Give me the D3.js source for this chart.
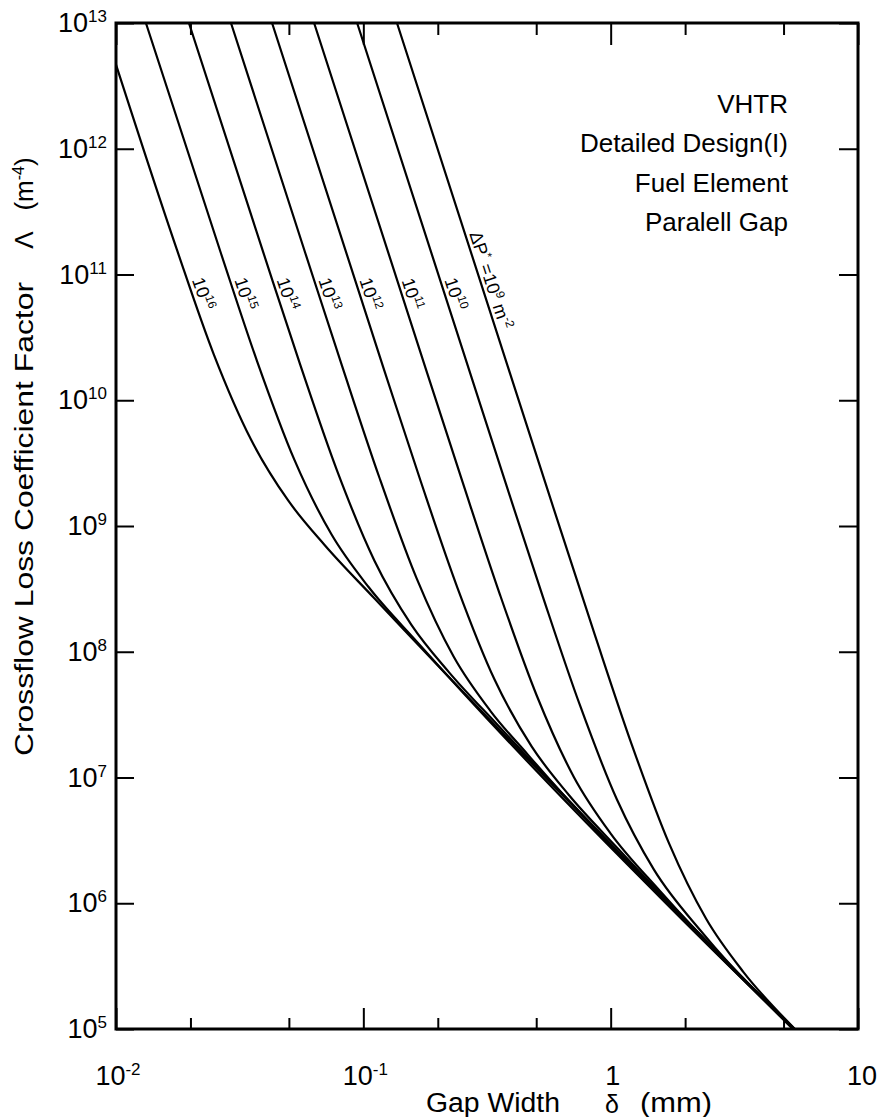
<!DOCTYPE html>
<html>
<head>
<meta charset="utf-8">
<script src="https://cdn.jsdelivr.net/npm/d3@7/dist/d3.min.js"></script>
<style>
  body { margin: 0; background: #fff; }
  svg { display: block; }
  text { font-family: "Liberation Sans", Arial, sans-serif; fill: #000; }
</style>
</head>
<body>
<svg id="chart" width="877" height="1117"></svg>
<script>
// Crossflow loss coefficient factor vs. gap width, one curve per ΔP* (m^-2)
const pressureExponents = [16, 15, 14, 13, 12, 11, 10, 9];

// gap width δ (mm) and loss factor Λ (m^-4) along each curve
const gapP16  = [0.0100, 0.0176, 0.0248, 0.0351, 0.0495, 0.0700, 0.111, 5.45];
const lossP16 = [4.66e12, 1.59e11, 2.34e10, 4.89e9, 1.61e9, 7.0e8, 2.65e8, 1e5];

const gapP15  = [0.01321, 0.0264, 0.0372, 0.0526, 0.0743, 0.105, 0.166, 5.47];
const lossP15 = [1e13, 1.53e11, 2.04e10, 3.37e9, 8.59e8, 3.27e8, 1.18e8, 1e5];

const gapP14  = [0.01972, 0.0394, 0.0556, 0.0785, 0.1109, 0.1567, 0.2213, 0.3508, 5.48];
const lossP14 = [1e13, 1.50e11, 1.91e10, 2.72e9, 5.30e8, 1.63e8, 6.92e7, 2.59e7, 1e5];

const gapP13  = [0.02917, 0.0582, 0.0822, 0.1161, 0.1641, 0.2317, 0.3273, 0.4624, 5.49];
const lossP13 = [1e13, 1.49e11, 1.85e10, 2.43e9, 3.85e8, 9.16e7, 3.36e7, 1.52e7, 1e5];

const gapP12  = [0.04276, 0.1205, 0.1702, 0.2404, 0.3396, 0.4797, 0.6776, 1.074, 5.50];
const lossP12 = [1e13, 1.82e10, 2.30e9, 3.21e8, 5.98e7, 1.76e7, 7.26e6, 2.70e6, 1e5];

const gapP11  = [0.06324, 0.1782, 0.2518, 0.3556, 0.5023, 0.7096, 1.002, 1.589, 5.52];
const lossP11 = [1e13, 1.82e10, 2.24e9, 2.90e8, 4.49e7, 1.01e7, 3.56e6, 1.24e6, 1e5];

const gapP10  = [0.09441, 0.2661, 0.3758, 0.5309, 0.7499, 1.059, 1.496, 2.371, 5.54];
const lossP10 = [1e13, 1.81e10, 2.21e9, 2.77e8, 3.79e7, 6.71e6, 1.85e6, 5.70e5, 1e5];

const gapP9   = [0.1368, 0.5445, 0.863, 1.219, 1.722, 2.432, 3.436, 5.56];
const lossP9  = [1e13, 2.20e9, 1.36e8, 1.81e7, 2.99e6, 7.52e5, 2.85e5, 1e5];

// Λ level at which each curve carries its ΔP* label
const labelLoss = [6.6e10, 6.6e10, 6.6e10, 6.6e10, 6.6e10, 6.6e10, 6.6e10, 8.5e10];

// axis ticks
const xMajorTicks = [0.01, 0.1, 1, 10];
const xMinorTicks = [0.02, 0.05, 0.2, 0.5, 2, 5];
const xTickLabels = [["10", "-2"], ["10", "-1"], ["1", ""], ["10", ""]];
const yTicks = [1e5, 1e6, 1e7, 1e8, 1e9, 1e10, 1e11, 1e12, 1e13];
const yTickExponents = ["5", "6", "7", "8", "9", "10", "11", "12", "13"];

const titleLines = ["VHTR", "Detailed Design(I)", "Fuel Element", "Paralell Gap"];

const series = [
  [gapP16, lossP16], [gapP15, lossP15], [gapP14, lossP14], [gapP13, lossP13],
  [gapP12, lossP12], [gapP11, lossP11], [gapP10, lossP10], [gapP9, lossP9]
].map(([g, l], i) => ({
  exp: pressureExponents[i],
  pts: g.map((v, k) => ({ gap: v, loss: l[k] })),
  labelAt: labelLoss[i]
}));

const svg = d3.select("#chart");
const plot = { left: 116, right: 858, top: 23, bottom: 1029 };

const x = d3.scaleLog().domain([0.01, 10]).range([plot.left, plot.right]);
const y = d3.scaleLog().domain([1e5, 1e13]).range([plot.bottom, plot.top]);

// curves
const line = d3.line()
  .x(d => x(d.gap))
  .y(d => y(d.loss))
  .curve(d3.curveMonotoneX);

svg.append("g")
  .selectAll("path")
  .data(series)
  .join("path")
  .attr("d", d => line(d.pts))
  .attr("fill", "none")
  .attr("stroke", "#000")
  .attr("stroke-width", 2.2)
  .attr("stroke-linejoin", "round");

// frame
svg.append("rect")
  .attr("x", plot.left).attr("y", plot.top)
  .attr("width", plot.right - plot.left)
  .attr("height", plot.bottom - plot.top)
  .attr("fill", "none")
  .attr("stroke", "#000")
  .attr("stroke-width", 3);

// tick marks (all pointing inward)
function ticks(axis, transform, len, values) {
  const g = svg.append("g")
    .attr("transform", transform)
    .call(axis.tickValues(values).tickSize(-len).tickFormat(""));
  g.select(".domain").remove();
  g.selectAll(".tick line").attr("stroke", "#000").attr("stroke-width", 2);
}
ticks(d3.axisBottom(x), `translate(0,${plot.bottom})`, 21, xMajorTicks);
ticks(d3.axisBottom(x), `translate(0,${plot.bottom})`, 11, xMinorTicks);
ticks(d3.axisTop(x), `translate(0,${plot.top})`, 22, xMajorTicks);
ticks(d3.axisTop(x), `translate(0,${plot.top})`, 12, xMinorTicks);
ticks(d3.axisLeft(y), `translate(${plot.left},0)`, 18, yTicks);
ticks(d3.axisRight(y), `translate(${plot.right},0)`, 19, yTicks);

// y tick labels: 10 with superscript exponent
const yLab = svg.append("g")
  .selectAll("text")
  .data(yTicks)
  .join("text")
  .attr("x", 107)
  .attr("y", d => y(d) + 9)
  .attr("text-anchor", "end")
  .attr("font-size", 27);
yLab.append("tspan").text("10");
yLab.append("tspan")
  .attr("dy", -10)
  .attr("font-size", 17)
  .text((d, i) => yTickExponents[i]);

// x tick labels
const xLab = svg.append("g")
  .selectAll("text")
  .data(xMajorTicks)
  .join("text")
  .attr("x", (d, i) => x(d) + (i === 3 ? 4 : 2))
  .attr("y", 1085)
  .attr("text-anchor", "middle")
  .attr("font-size", 27);
xLab.append("tspan").text((d, i) => xTickLabels[i][0]);
xLab.append("tspan")
  .attr("dy", -10)
  .attr("font-size", 17)
  .text((d, i) => xTickLabels[i][1]);

// axis titles
svg.append("text")
  .attr("x", 426).attr("y", 1112)
  .attr("font-size", 27)
  .attr("textLength", 134)
  .attr("lengthAdjust", "spacingAndGlyphs")
  .text("Gap Width");
svg.append("text")
  .attr("x", 605).attr("y", 1113)
  .attr("font-size", 25)
  .text("δ");
svg.append("text")
  .attr("x", 640).attr("y", 1112)
  .attr("font-size", 27)
  .attr("textLength", 72)
  .attr("lengthAdjust", "spacingAndGlyphs")
  .text("(mm)");

svg.append("text")
  .attr("transform", "translate(33,519) rotate(-90)")
  .attr("text-anchor", "middle")
  .attr("font-size", 26)
  .attr("textLength", 474)
  .attr("lengthAdjust", "spacingAndGlyphs")
  .text("Crossflow Loss Coefficient Factor");
svg.append("text")
  .attr("transform", "translate(33,240) rotate(-90)")
  .attr("text-anchor", "middle")
  .attr("font-size", 26)
  .text("Λ");
const unit = svg.append("text")
  .attr("transform", "translate(33,184) rotate(-90)")
  .attr("text-anchor", "middle")
  .attr("font-size", 26);
unit.append("tspan").text("(m");
unit.append("tspan").attr("dy", -9).attr("font-size", 16).text("-4");
unit.append("tspan").attr("dy", 9).text(")");

// design annotation, right aligned
svg.append("g")
  .selectAll("text")
  .data(titleLines)
  .join("text")
  .attr("x", 788)
  .attr("y", (d, i) => 113 + i * 39.3)
  .attr("text-anchor", "end")
  .attr("font-family", "'DejaVu Sans', sans-serif")
  .attr("font-size", 26)
  .text(d => d);

// curve labels, rotated along each curve
function pointAt(pts, loss) {
  const t = Math.log10(loss);
  for (let k = 0; k < pts.length - 1; k++) {
    const a = Math.log10(pts[k].loss), b = Math.log10(pts[k + 1].loss);
    if (t <= a && t >= b) {
      const f = (a - t) / (a - b);
      const g = Math.log10(pts[k].gap) + f * (Math.log10(pts[k + 1].gap) - Math.log10(pts[k].gap));
      return { px: x(Math.pow(10, g)), py: y(loss),
               ang: Math.atan2(y(pts[k + 1].loss) - y(pts[k].loss), x(pts[k + 1].gap) - x(pts[k].gap)) * 180 / Math.PI };
    }
  }
  return null;
}

const labels = svg.append("g")
  .selectAll("text")
  .data(series)
  .join("text")
  .attr("transform", d => {
    const p = pointAt(d.pts, d.labelAt);
    return `translate(${p.px},${p.py}) rotate(${p.ang})`;
  })
  .attr("y", -4)
  .attr("text-anchor", "middle")
  .attr("font-size", 18);

labels.each(function (d) {
  const t = d3.select(this);
  if (d.exp === 9) {
    t.append("tspan").text("ΔP");
    t.append("tspan").attr("dy", -7).attr("font-size", 12).text("*");
    t.append("tspan").attr("dy", 7).text(" =10");
    t.append("tspan").attr("dy", -7).attr("font-size", 12).text(String(d.exp));
    t.append("tspan").attr("dy", 7).text(" m");
    t.append("tspan").attr("dy", -7).attr("font-size", 12).text("-2");
  } else {
    t.append("tspan").text("10");
    t.append("tspan").attr("dy", -7).attr("font-size", 12).text(String(d.exp));
  }
});
</script>
</body>
</html>
